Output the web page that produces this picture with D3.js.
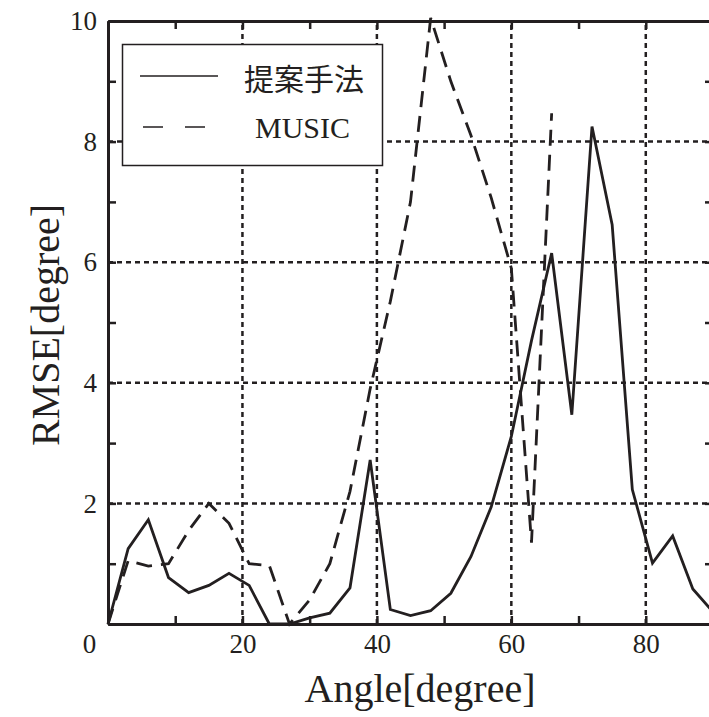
<!DOCTYPE html>
<html>
<head>
<meta charset="utf-8">
<script src="https://cdn.jsdelivr.net/npm/d3@7"></script>
<style>
    body { margin: 0; background: #fff; }
    svg { display: block; }
    .axis path, .axis line { stroke: #231f20; }
    .axis text { font-family: "Liberation Serif", "Times New Roman", serif; font-size: 27px; fill: #231f20; }
    .grid line { stroke: #231f20; stroke-width: 2.5; stroke-dasharray: 5,4; }
</style>
</head>
<body>
<div id="chart"></div>
<script>
(function (d3) {

    var angles = [0, 3, 6, 9, 12, 15, 18, 21, 24, 27, 30, 33, 36, 39, 42, 45,
                  48, 51, 54, 57, 60, 63, 66, 69, 72, 75, 78, 81, 84, 87, 90];

    // 提案手法 (solid)
    var proposed = [0, 1.25, 1.73, 0.77, 0.52, 0.64, 0.84, 0.64, 0, 0, 0.1, 0.18, 0.6, 2.72, 0.24, 0.14,
                    0.22, 0.51, 1.12, 1.94, 3.11, 4.7, 6.15, 3.47, 8.25, 6.62, 2.23, 1.01, 1.46, 0.58, 0.2];

    // MUSIC (dashed), not plotted past 66 deg
    var music = [0, 1.05, 0.96, 1.0, 1.55, 2.0, 1.67, 1.0, 0.97, 0, 0.4, 1.0, 2.2, 3.9, 5.35, 7.0,
                 10.05, 9.0, 8.1, 7.07, 5.9, 1.35, 8.47, null, null, null, null, null, null, null, null];

    var xMajor = [20, 40, 60, 80];
    var xTicks = [0, 10, 20, 30, 40, 50, 60, 70, 80, 90];
    var yMajor = [2, 4, 6, 8];
    var yTicks = [0, 1, 2, 3, 4, 5, 6, 7, 8, 9, 10];
    var yLabels = [2, 4, 6, 8, 10];

    var seriesNames = ['提案手法', 'MUSIC'];

    var width = 709,
        height = 717;

    var left = 108, right = 713, top = 21, bottom = 624;

    var xScale = d3.scaleLinear().domain([0, 90]).range([left, right]);
    var yScale = d3.scaleLinear().domain([0, 10]).range([bottom, top]);

    var svg = d3.select('#chart')
        .append('svg')
        .attr('width', width)
        .attr('height', height);

    // dotted grid
    var grid = svg.append('g').attr('class', 'grid');

    grid.selectAll('.gx')
        .data(xMajor)
        .enter().append('line')
        .attr('x1', function (d) { return xScale(d); })
        .attr('x2', function (d) { return xScale(d); })
        .attr('y1', bottom)
        .attr('y2', top);

    grid.selectAll('.gy')
        .data(yMajor)
        .enter().append('line')
        .attr('x1', left)
        .attr('x2', right)
        .attr('y1', function (d) { return yScale(d); })
        .attr('y2', function (d) { return yScale(d); });

    // axes with inward ticks
    var xAxis = d3.axisBottom(xScale)
        .tickValues(xTicks)
        .tickSizeInner(-8)
        .tickSizeOuter(0)
        .tickPadding(10)
        .tickFormat(function (d) { return xMajor.indexOf(d) >= 0 ? d : ''; });

    var xAxisTop = d3.axisTop(xScale)
        .tickValues(xTicks)
        .tickSizeInner(-8)
        .tickSizeOuter(0)
        .tickFormat('');

    var yAxis = d3.axisLeft(yScale)
        .tickValues(yTicks)
        .tickSizeInner(-8)
        .tickSizeOuter(0)
        .tickPadding(11)
        .tickFormat(function (d) { return yLabels.indexOf(d) >= 0 ? d : ''; });

    var yAxisRight = d3.axisRight(yScale)
        .tickValues(yTicks)
        .tickSizeInner(-8)
        .tickSizeOuter(0)
        .tickFormat('');

    var axes = [
        [xAxis, 'translate(0,' + bottom + ')'],
        [xAxisTop, 'translate(0,' + top + ')'],
        [yAxis, 'translate(' + left + ',0)'],
        [yAxisRight, 'translate(' + right + ',0)']
    ];

    axes.forEach(function (a) {
        var g = svg.append('g')
            .attr('class', 'axis')
            .attr('transform', a[1])
            .call(a[0]);
        g.attr('font-family', null);
        g.select('.domain').attr('stroke-width', 3);
        g.selectAll('.tick line').attr('stroke-width', 2.5);
    });

    // single "0" in the lower-left corner
    svg.append('text')
        .attr('x', xScale(0) - 18.5)
        .attr('y', 653)
        .attr('text-anchor', 'middle')
        .style('font-family', '"Liberation Serif", serif')
        .style('font-size', '27px')
        .style('fill', '#231f20')
        .text('0');

    // lines
    var line = d3.line()
        .defined(function (d) { return d[1] !== null; })
        .x(function (d) { return xScale(d[0]); })
        .y(function (d) { return yScale(d[1]); });

    svg.append('path')
        .datum(angles.map(function (a, i) { return [a, proposed[i]]; }))
        .attr('d', line)
        .attr('fill', 'none')
        .attr('stroke', '#231f20')
        .attr('stroke-width', 2.8)
        .attr('stroke-linejoin', 'miter');

    svg.append('path')
        .datum(angles.map(function (a, i) { return [a, music[i]]; }))
        .attr('d', line)
        .attr('fill', 'none')
        .attr('stroke', '#231f20')
        .attr('stroke-width', 2.8)
        .attr('stroke-dasharray', '16,9');

    // legend
    var legend = svg.append('g');

    legend.append('rect')
        .attr('x', 122.5)
        .attr('y', 44.5)
        .attr('width', 260)
        .attr('height', 121)
        .attr('fill', '#fff')
        .attr('stroke', '#231f20')
        .attr('stroke-width', 1.5);

    legend.append('line')
        .attr('x1', 140).attr('x2', 218)
        .attr('y1', 76).attr('y2', 76)
        .attr('stroke', '#231f20')
        .attr('stroke-width', 1.5);

    legend.append('line')
        .attr('x1', 143).attr('x2', 205)
        .attr('y1', 127).attr('y2', 127)
        .attr('stroke', '#231f20')
        .attr('stroke-width', 1.5)
        .attr('stroke-dasharray', '20,22');

    legend.append('text')
        .attr('x', 244)
        .attr('y', 77)
        .attr('dominant-baseline', 'central')
        .style('font-family', '"Noto Sans CJK JP", sans-serif')
        .style('font-size', '30px')
        .style('fill', '#231f20')
        .text(seriesNames[0]);

    legend.append('text')
        .attr('x', 255)
        .attr('y', 138)
        .style('font-family', '"Liberation Serif", serif')
        .style('font-size', '30px')
        .style('fill', '#231f20')
        .text(seriesNames[1]);

    // axis titles
    svg.append('text')
        .attr('x', 420)
        .attr('y', 702)
        .attr('text-anchor', 'middle')
        .style('font-family', '"Liberation Serif", serif')
        .style('font-size', '40px')
        .style('fill', '#231f20')
        .text('Angle[degree]');

    svg.append('text')
        .attr('transform', 'translate(59,325) rotate(-90)')
        .attr('text-anchor', 'middle')
        .style('font-family', '"Liberation Serif", serif')
        .style('font-size', '40px')
        .style('fill', '#231f20')
        .text('RMSE[degree]');

})(d3);
</script>
</body>
</html>
